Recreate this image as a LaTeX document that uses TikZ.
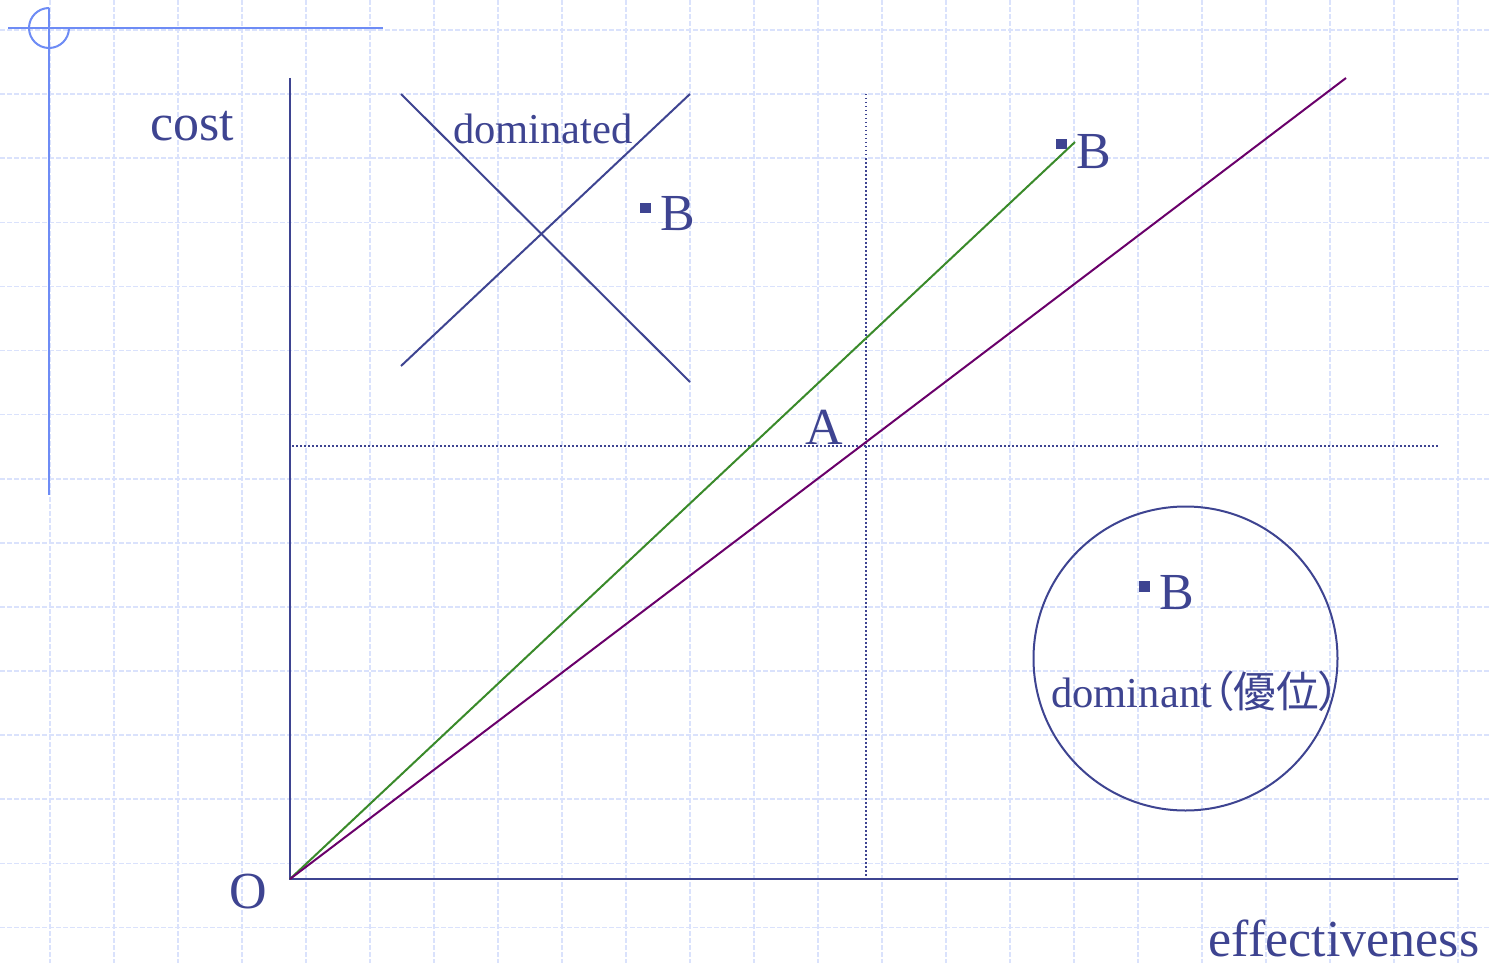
\documentclass[tikz,border=0pt]{standalone}
\usepackage{fontspec}
\setmainfont{Liberation Serif}
\newfontfamily\cjk[RawFeature=+palt]{Noto Sans CJK JP}
\definecolor{ink}{RGB}{62,68,145}
\definecolor{deco}{RGB}{110,140,245}
\definecolor{gridc}{RGB}{218,226,252}
\definecolor{greenl}{RGB}{58,138,42}
\definecolor{purpl}{RGB}{106,0,106}
\tikzset{
  gridline/.style={draw=gridc, line width=1.6pt, dash pattern=on 5pt off 2pt},
  axisline/.style={draw=ink, line width=2pt},
  dotline/.style={draw=ink, line width=1.5pt, dash pattern=on 1.5pt off 2.5pt},
  bigtxt/.style={text=ink, inner sep=0pt, anchor=base, font=\fontsize{52}{60}\selectfont},
  midtxt/.style={text=ink, inner sep=0pt, font=\fontsize{42.6}{50}\selectfont},
  bullet/.style={fill=ink, inner sep=0pt, minimum size=10.5pt},
}
\begin{document}
\begin{tikzpicture}[x=1pt, y=-1pt]
\useasboundingbox (0,0) rectangle (1491,963);
\fill[white] (0,0) rectangle (1491,963);
% background grid
\foreach \k in {0,...,22} \draw[gridline] ({50+64*\k},0) -- ({50+64*\k},963);
\foreach \k in {0,...,14} \draw[gridline] (0,{30+64.1*\k}) -- (1491,{30+64.1*\k});
% corner decoration
\coordinate (d1) at (8,28); \coordinate (d2) at (383,28);
\coordinate (d3) at (49,8); \coordinate (d4) at (49,495);
\draw[deco, line width=2pt] (d1) -- (d2);
\draw[deco, line width=2pt] (d3) -- (d4);
\draw[deco, line width=2pt] (d3) arc[start angle=-90, end angle=-360, radius=20];
% axes
\coordinate (O) at (290,879);
\coordinate (ytop) at (290,78);
\coordinate (xend) at (1458,879);
\draw[axisline] (ytop) -- (O) -- (xend);
% dotted guides
\coordinate (h1) at (292,446); \coordinate (h2) at (1440,446);
\coordinate (v1) at (866,94); \coordinate (v2) at (866,879);
\draw[dotline] (h1) -- (h2);
\draw[dotline] (v1) -- (v2);
% ratio lines
\coordinate (g) at (1075,142);
\coordinate (p) at (1346,78);
\draw[greenl, line width=2pt] (O) -- (g);
\draw[purpl, line width=2pt] (O) -- (p);
% cross
\coordinate (c1) at (401,94); \coordinate (c2) at (690,382);
\coordinate (c3) at (401,366); \coordinate (c4) at (690,94);
\draw[axisline] (c1) -- (c2);
\draw[axisline] (c3) -- (c4);
% circle
\node[circle, draw=ink, line width=2pt, minimum size=304pt, inner sep=0pt] (circ) at (1185.5,658.5) {};
% labels
\node[bigtxt] (cost) at (192,140) {cost};
\node[bigtxt] (eff) at (1344,956) {effectiveness};
\node[bigtxt] (O lbl) at (248.5,908) {O};
\node[bigtxt] (A) at (824.5,444) {A};
\node[midtxt, anchor=base] (dom) at (543,143) {dominated};
\node[midtxt, anchor=base west] (domt) at (1051,707) {dominant{\cjk （優位）}};
% B points
\node[bullet] (s1) at (1061.5,144) {};
\node[bigtxt] (B1) at (1093.5,168) {B};
\node[bullet] (s2) at (645.5,208) {};
\node[bigtxt] (B2) at (677.5,230) {B};
\node[bullet] (s3) at (1144.5,586.5) {};
\node[bigtxt] (B3) at (1177,609) {B};
\end{tikzpicture}
\end{document}
